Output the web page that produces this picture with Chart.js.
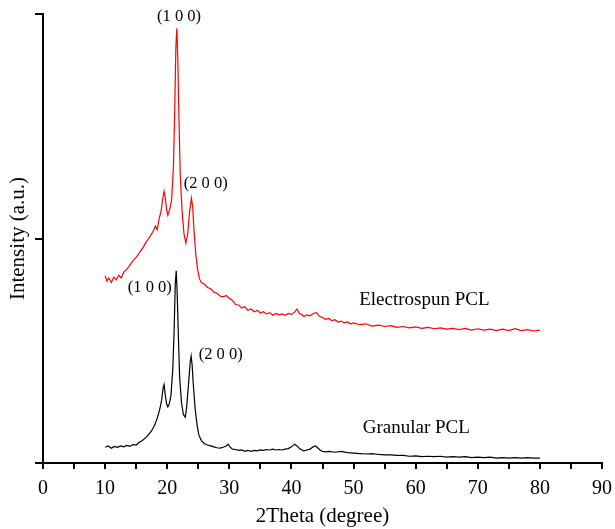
<!DOCTYPE html>
<html>
<head>
  <meta charset="UTF-8">
  <title>XRD PCL</title>
  <script src="https://cdn.jsdelivr.net/npm/chart.js@4.4.0/dist/chart.umd.min.js"></script>
  <style>
    body { margin: 0; background: #fff; }
    #wrap { width: 615px; height: 529px; }
  </style>
</head>
<body>
<div id="wrap"><canvas id="chart"></canvas></div>

<script>
  // 2theta positions and intensities (arbitrary units, 0..1000)
  var electrospunX = [10.0, 10.3, 10.6, 11.0, 11.4, 11.8, 12.2, 12.6, 13.0, 13.4, 13.8, 14.2, 14.6, 15.0, 15.4, 15.8, 16.2, 16.6, 17.0, 17.4, 17.8, 18.1, 18.4, 18.7, 19.0, 19.3, 19.5, 19.7, 19.9, 20.1, 20.4, 20.7, 21.0, 21.2, 21.4, 21.55, 21.7, 21.9, 22.1, 22.4, 22.7, 23.0, 23.3, 23.6, 23.9, 24.1, 24.3, 24.6, 24.9, 25.2, 25.5, 26.0, 26.5, 27.0, 27.5, 28.0, 28.5, 29.0, 29.5, 30.0, 30.5, 31.0, 31.5, 32.0, 32.5, 33.0, 33.5, 34.0, 34.5, 35.0, 35.5, 36.0, 36.5, 37.0, 37.5, 38.0, 38.5, 39.0, 39.5, 40.0, 40.5, 40.9, 41.3, 41.7, 42.0, 42.5, 43.0, 43.5, 44.0, 44.5, 45.0, 45.5, 46.0, 46.5, 47.0, 47.5, 48.0, 48.5, 49.0, 49.5, 50, 51, 52, 53, 54, 55, 56, 57, 58, 59, 60, 61, 62, 63, 64, 65, 66, 67, 68, 69, 70, 71, 72, 73, 74, 75, 76, 77, 78, 79, 80];
  var electrospunY = [417, 405, 412, 402, 414, 408, 418, 412, 425, 430, 437, 445, 452, 458, 466, 474, 482, 492, 500, 508, 518, 528, 520, 545, 560, 590, 605, 590, 565, 552, 565, 585, 660, 780, 930, 968, 900, 760, 640, 560, 510, 490, 510, 560, 590, 570, 520, 465, 430, 410, 402, 398, 391, 388, 381, 378, 372, 370, 373, 367, 362, 353, 352, 345, 348, 340, 343, 337, 340, 334, 337, 332, 335, 329, 333, 330, 332, 329, 333, 331, 336, 343, 333, 330, 326, 330, 328, 333, 335, 327, 324, 320, 322, 317, 319, 314, 316, 312, 314, 310, 312, 308, 310, 305, 307, 304, 306, 302, 304, 301, 303, 300, 302, 299, 301, 298, 300, 297, 300, 296, 299, 296, 298, 295, 298, 295, 299, 295, 297, 294, 296];

  var granularX = [10.0, 10.5, 11.0, 11.5, 12.0, 12.5, 13.0, 13.5, 14.0, 14.5, 15.0, 15.5, 16.0, 16.5, 17.0, 17.5, 18.0, 18.4, 18.8, 19.1, 19.35, 19.5, 19.7, 19.9, 20.1, 20.3, 20.6, 20.9, 21.1, 21.3, 21.45, 21.6, 21.8, 22.0, 22.3, 22.6, 22.9, 23.1, 23.4, 23.7, 23.85, 24.0, 24.2, 24.5, 24.8, 25.1, 25.5, 26.0, 26.5, 27.0, 27.5, 28.0, 28.5, 29.0, 29.5, 29.8, 30.1, 30.5, 31.0, 31.5, 32.0, 32.5, 33.0, 33.5, 34.0, 34.5, 35.0, 35.5, 36.0, 36.5, 37.0, 37.5, 38.0, 38.5, 39.0, 39.5, 40.0, 40.5, 40.9, 41.3, 41.7, 42.0, 42.5, 43.0, 43.5, 43.9, 44.3, 44.7, 45.0, 45.5, 46, 47, 48, 49, 50, 51, 52, 53, 54, 55, 56, 57, 58, 59, 60, 61, 62, 63, 64, 65, 66, 67, 68, 69, 70, 71, 72, 73, 74, 75, 76, 77, 78, 79, 80];
  var granularY = [35, 38, 33, 37, 35, 38, 36, 39, 37, 41, 40, 46, 50, 56, 63, 72, 85, 100, 120, 140, 168, 175, 150, 132, 125, 130, 150, 210, 290, 400, 428, 380, 280, 190, 135, 108, 102, 120, 170, 225, 238, 220, 175, 120, 85, 62, 50, 43, 40, 38, 36, 34, 33, 35, 38, 42, 36, 31, 30, 28, 29, 26, 28, 26, 28, 27, 29, 28, 30, 29, 31, 29, 30, 29, 31, 32, 36, 42, 38, 32, 29, 27, 29, 31, 36, 38, 33, 28, 26, 25, 26, 24, 26, 23, 22, 21, 20, 21, 19, 18, 18, 17, 17, 15, 16, 14, 15, 14, 15, 13, 14, 13, 14, 12, 13, 12, 13, 11, 12, 11, 12, 11, 12, 11, 11];

  var peakLabels = ['(1 0 0)', '(2 0 0)', '(1 0 0)', '(2 0 0)'];
  var peakLabelX = [21.9, 26.2, 17.2, 28.6];
  var peakLabelY = [993, 621, 390, 241];
  var sampleNames = ['Electrospun PCL', 'Granular PCL'];
  var sampleNameX = [61.4, 60.1];
  var sampleNameY = [363, 78];

  function toPoints(xs, ys) {
    return xs.map(function (x, i) { return { x: x, y: ys[i] }; });
  }

  var serif = '"Liberation Serif", "Times New Roman", serif';

  var textPlugin = {
    id: 'texts',
    afterDatasetsDraw: function (chart) {
      var ctx = chart.ctx;
      var sx = chart.scales.x, sy = chart.scales.y;
      ctx.save();
      ctx.fillStyle = '#000';
      ctx.textAlign = 'center';
      ctx.textBaseline = 'middle';
      ctx.font = '16.5px ' + serif;
      for (var i = 0; i < peakLabels.length; i++) {
        ctx.fillText(peakLabels[i], sx.getPixelForValue(peakLabelX[i]), sy.getPixelForValue(peakLabelY[i]));
      }
      ctx.font = '19px ' + serif;
      for (var j = 0; j < sampleNames.length; j++) {
        ctx.fillText(sampleNames[j], sx.getPixelForValue(sampleNameX[j]), sy.getPixelForValue(sampleNameY[j]));
      }
      ctx.restore();
    }
  };

  var ctx = document.getElementById('chart').getContext('2d');
  var chart = new Chart(ctx, {
    type: 'line',
    data: {
      datasets: [{
        label: 'Electrospun PCL',
        data: toPoints(electrospunX, electrospunY),
        borderColor: '#ff0000',
        borderWidth: 1.2,
        pointRadius: 0,
        tension: 0,
        fill: false
      }, {
        label: 'Granular PCL',
        data: toPoints(granularX, granularY),
        borderColor: '#000000',
        borderWidth: 1.2,
        pointRadius: 0,
        tension: 0,
        fill: false
      }]
    },
    options: {
      responsive: true,
      maintainAspectRatio: false,
      animation: false,
      layout: { padding: { top: 14, right: 13, left: 0, bottom: 0 } },
      plugins: {
        legend: { display: false },
        tooltip: { enabled: false }
      },
      scales: {
        x: {
          type: 'linear',
          min: 0,
          max: 90,
          afterFit: function (s) { s.height = 66; s.paddingLeft = 0; s.paddingRight = 0; },
          border: { display: true, color: '#000', width: 2 },
          grid: { drawOnChartArea: false, drawTicks: true, tickLength: 6, color: '#000', lineWidth: 2 },
          ticks: {
            stepSize: 5,
            autoSkip: false,
            maxRotation: 0,
            padding: 8,
            color: '#000',
            font: { family: serif, size: 20 },
            callback: function (v) { return v % 10 === 0 ? v : ''; }
          },
          title: {
            display: true,
            text: '2Theta (degree)',
            color: '#000',
            font: { family: serif, size: 21 },
            padding: { top: 0, bottom: 0 }
          }
        },
        y: {
          min: 0,
          max: 1000,
          afterFit: function (s) { s.width = 43; },
          border: { display: true, color: '#000', width: 2 },
          grid: { drawOnChartArea: false, drawTicks: true, tickLength: 8, color: '#000', lineWidth: 2 },
          ticks: {
            stepSize: 500,
            color: '#000',
            callback: function () { return ''; }
          },
          title: {
            display: true,
            text: 'Intensity (a.u.)',
            color: '#000',
            font: { family: serif, size: 21 },
            padding: { top: 6, bottom: 0 }
          }
        }
      }
    },
    plugins: [textPlugin]
  });
</script>
</body>
</html>
